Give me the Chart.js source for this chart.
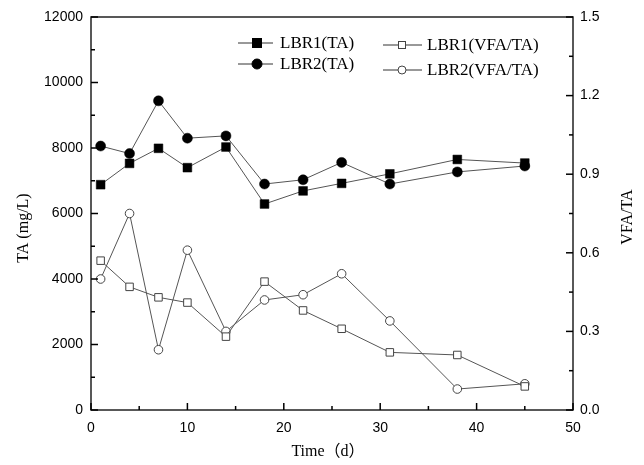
<!DOCTYPE html>
<html>
<head>
<meta charset="utf-8">
<script src="https://cdn.jsdelivr.net/npm/chart.js@4.4.0/dist/chart.umd.min.js"></script>
<style>
html,body{margin:0;padding:0;background:#fff;}
#wrap{width:644px;height:465px;}
</style>
</head>
<body>
<div id="wrap"><canvas id="c" width="644" height="465"></canvas></div>
<script>
const days = [1, 4, 7, 10, 14, 18, 22, 26, 31, 38, 45];
const lbr1TA = [6880, 7530, 7990, 7400, 8030, 6290, 6690, 6920, 7210, 7650, 7540];
const lbr2TA = [8060, 7830, 9440, 8300, 8370, 6900, 7030, 7560, 6900, 7270, 7450];
const lbr1VFA = [0.57, 0.47, 0.43, 0.41, 0.28, 0.49, 0.38, 0.31, 0.22, 0.21, 0.09];
const lbr2VFA = [0.50, 0.75, 0.23, 0.61, 0.30, 0.42, 0.44, 0.52, 0.34, 0.08, 0.10];
const seriesNames = ['LBR1(TA)', 'LBR2(TA)', 'LBR1(VFA/TA)', 'LBR2(VFA/TA)'];
const xTitle = 'Time（d）';
const yTitle = 'TA (mg/L)';
const y1Title = 'VFA/TA';

const pts = (arr) => days.map((d, i) => ({x: d, y: arr[i]}));

const frameAndTicks = {
  id: 'frameAndTicks',
  afterDraw(chart) {
    const ctx = chart.ctx;
    const a = chart.chartArea;
    const sx = chart.scales.x, sy = chart.scales.y, sy1 = chart.scales.y1;
    ctx.save();
    ctx.strokeStyle = '#222';
    ctx.lineWidth = 1.5;
    ctx.strokeRect(a.left, a.top, a.right - a.left, a.bottom - a.top);
    ctx.strokeStyle = '#000';
    ctx.lineWidth = 1.5;
    const segs = [];
    for (let v = 0; v <= 50; v += 5) {
      const p = sx.getPixelForValue(v);
      const len = (v % 10 === 0) ? 7 : 4;
      segs.push([p, a.bottom, p, a.bottom - len]);
    }
    for (let v = 0; v <= 12000; v += 1000) {
      const p = sy.getPixelForValue(v);
      const len = (v % 2000 === 0) ? 7 : 4;
      segs.push([a.left, p, a.left + len, p]);
    }
    for (let k = 0; k <= 10; k++) {
      const p = sy1.getPixelForValue(k * 0.15);
      const len = (k % 2 === 0) ? 7 : 4;
      segs.push([a.right, p, a.right - len, p]);
    }
    segs.forEach(s => {
      ctx.beginPath();
      ctx.moveTo(s[0], s[1]);
      ctx.lineTo(s[2], s[3]);
      ctx.stroke();
    });

    // axis titles
    ctx.fillStyle = '#000';
    ctx.font = "16px 'Liberation Serif', 'Noto Sans CJK SC', serif";
    ctx.textAlign = 'center';
    ctx.textBaseline = 'middle';
    ctx.fillText(xTitle, (a.left + a.right) / 2 - 4, 452);
    ctx.save();
    ctx.translate(24, 228);
    ctx.rotate(-Math.PI / 2);
    ctx.fillText(yTitle, 0, 0);
    ctx.restore();
    ctx.save();
    ctx.translate(628, 217);
    ctx.rotate(-Math.PI / 2);
    ctx.fillText(y1Title, 0, 0);
    ctx.restore();

    // legend
    const items = [
      {ds: 0, x1: 238, x2: 273, mx: 257, tx: 280, y: 43},
      {ds: 1, x1: 238, x2: 273, mx: 257, tx: 280, y: 64},
      {ds: 2, x1: 383, x2: 422, mx: 402, tx: 427, y: 45},
      {ds: 3, x1: 383, x2: 422, mx: 402, tx: 427, y: 70}
    ];
    ctx.font = "17px 'Liberation Serif', serif";
    ctx.textAlign = 'left';
    items.forEach(it => {
      const d = chart.data.datasets[it.ds];
      ctx.strokeStyle = '#333';
      ctx.lineWidth = 1;
      ctx.beginPath();
      ctx.moveTo(it.x1, it.y); ctx.lineTo(it.x2, it.y);
      ctx.stroke();
      ctx.fillStyle = d.pointBackgroundColor;
      ctx.strokeStyle = d.pointBorderColor;
      ctx.lineWidth = 1;
      const open = d.pointBackgroundColor === '#ffffff';
      if (d.pointStyle === 'rect') {
        const s = open ? 3.5 : 4.5;
        ctx.fillRect(it.mx - s, it.y - s, 2 * s, 2 * s);
        ctx.strokeRect(it.mx - s, it.y - s, 2 * s, 2 * s);
      } else {
        const r = open ? 4 : 5;
        ctx.beginPath(); ctx.arc(it.mx, it.y, r, 0, Math.PI * 2);
        ctx.fill(); ctx.stroke();
      }
      ctx.fillStyle = '#000';
      ctx.fillText(seriesNames[it.ds], it.tx, it.y + 1);
    });
    ctx.restore();
  }
};

new Chart(document.getElementById('c'), {
  type: 'line',
  data: {
    datasets: [
      {label: seriesNames[0], data: pts(lbr1TA), yAxisID: 'y', borderColor: '#555', borderWidth: 1,
       pointStyle: 'rect', pointRadius: 6.2, pointBackgroundColor: '#000000', pointBorderColor: '#000000', pointBorderWidth: 0.5},
      {label: seriesNames[1], data: pts(lbr2TA), yAxisID: 'y', borderColor: '#555', borderWidth: 1,
       pointStyle: 'circle', pointRadius: 5, pointBackgroundColor: '#000000', pointBorderColor: '#000000', pointBorderWidth: 0.5},
      {label: seriesNames[2], data: pts(lbr1VFA), yAxisID: 'y1', borderColor: '#555', borderWidth: 1,
       pointStyle: 'rect', pointRadius: 5.3, pointBackgroundColor: '#ffffff', pointBorderColor: '#444', pointBorderWidth: 1},
      {label: seriesNames[3], data: pts(lbr2VFA), yAxisID: 'y1', borderColor: '#555', borderWidth: 1,
       pointStyle: 'circle', pointRadius: 4.3, pointBackgroundColor: '#ffffff', pointBorderColor: '#444', pointBorderWidth: 1}
    ]
  },
  options: {
    responsive: false,
    animation: false,
    layout: {padding: {top: 17, left: 0, right: 0, bottom: 0}},
    plugins: {legend: {display: false}, tooltip: {enabled: false}},
    elements: {line: {tension: 0}},
    scales: {
      x: {
        type: 'linear', min: 0, max: 50,
        grid: {display: false, drawTicks: false}, border: {display: false},
        ticks: {stepSize: 10, padding: 10, color: '#000', font: {family: 'Liberation Sans', size: 14}, maxRotation: 0,
                callback: v => String(v)},
        afterFit(s) { s.height = 55; }
      },
      y: {
        position: 'left', min: 0, max: 12000,
        grid: {display: false, drawTicks: false}, border: {display: false},
        ticks: {stepSize: 2000, padding: 8, color: '#000', font: {family: 'Liberation Sans', size: 14},
                callback: v => String(v)},
        afterFit(s) { s.width = 91; }
      },
      y1: {
        position: 'right', min: 0, max: 1.5,
        grid: {display: false, drawTicks: false}, border: {display: false},
        ticks: {stepSize: 0.3, padding: 7, color: '#000', font: {family: 'Liberation Sans', size: 14},
                callback: v => Number(v).toFixed(1)},
        afterFit(s) { s.width = 71; }
      }
    }
  },
  plugins: [frameAndTicks]
});
</script>
</body>
</html>
